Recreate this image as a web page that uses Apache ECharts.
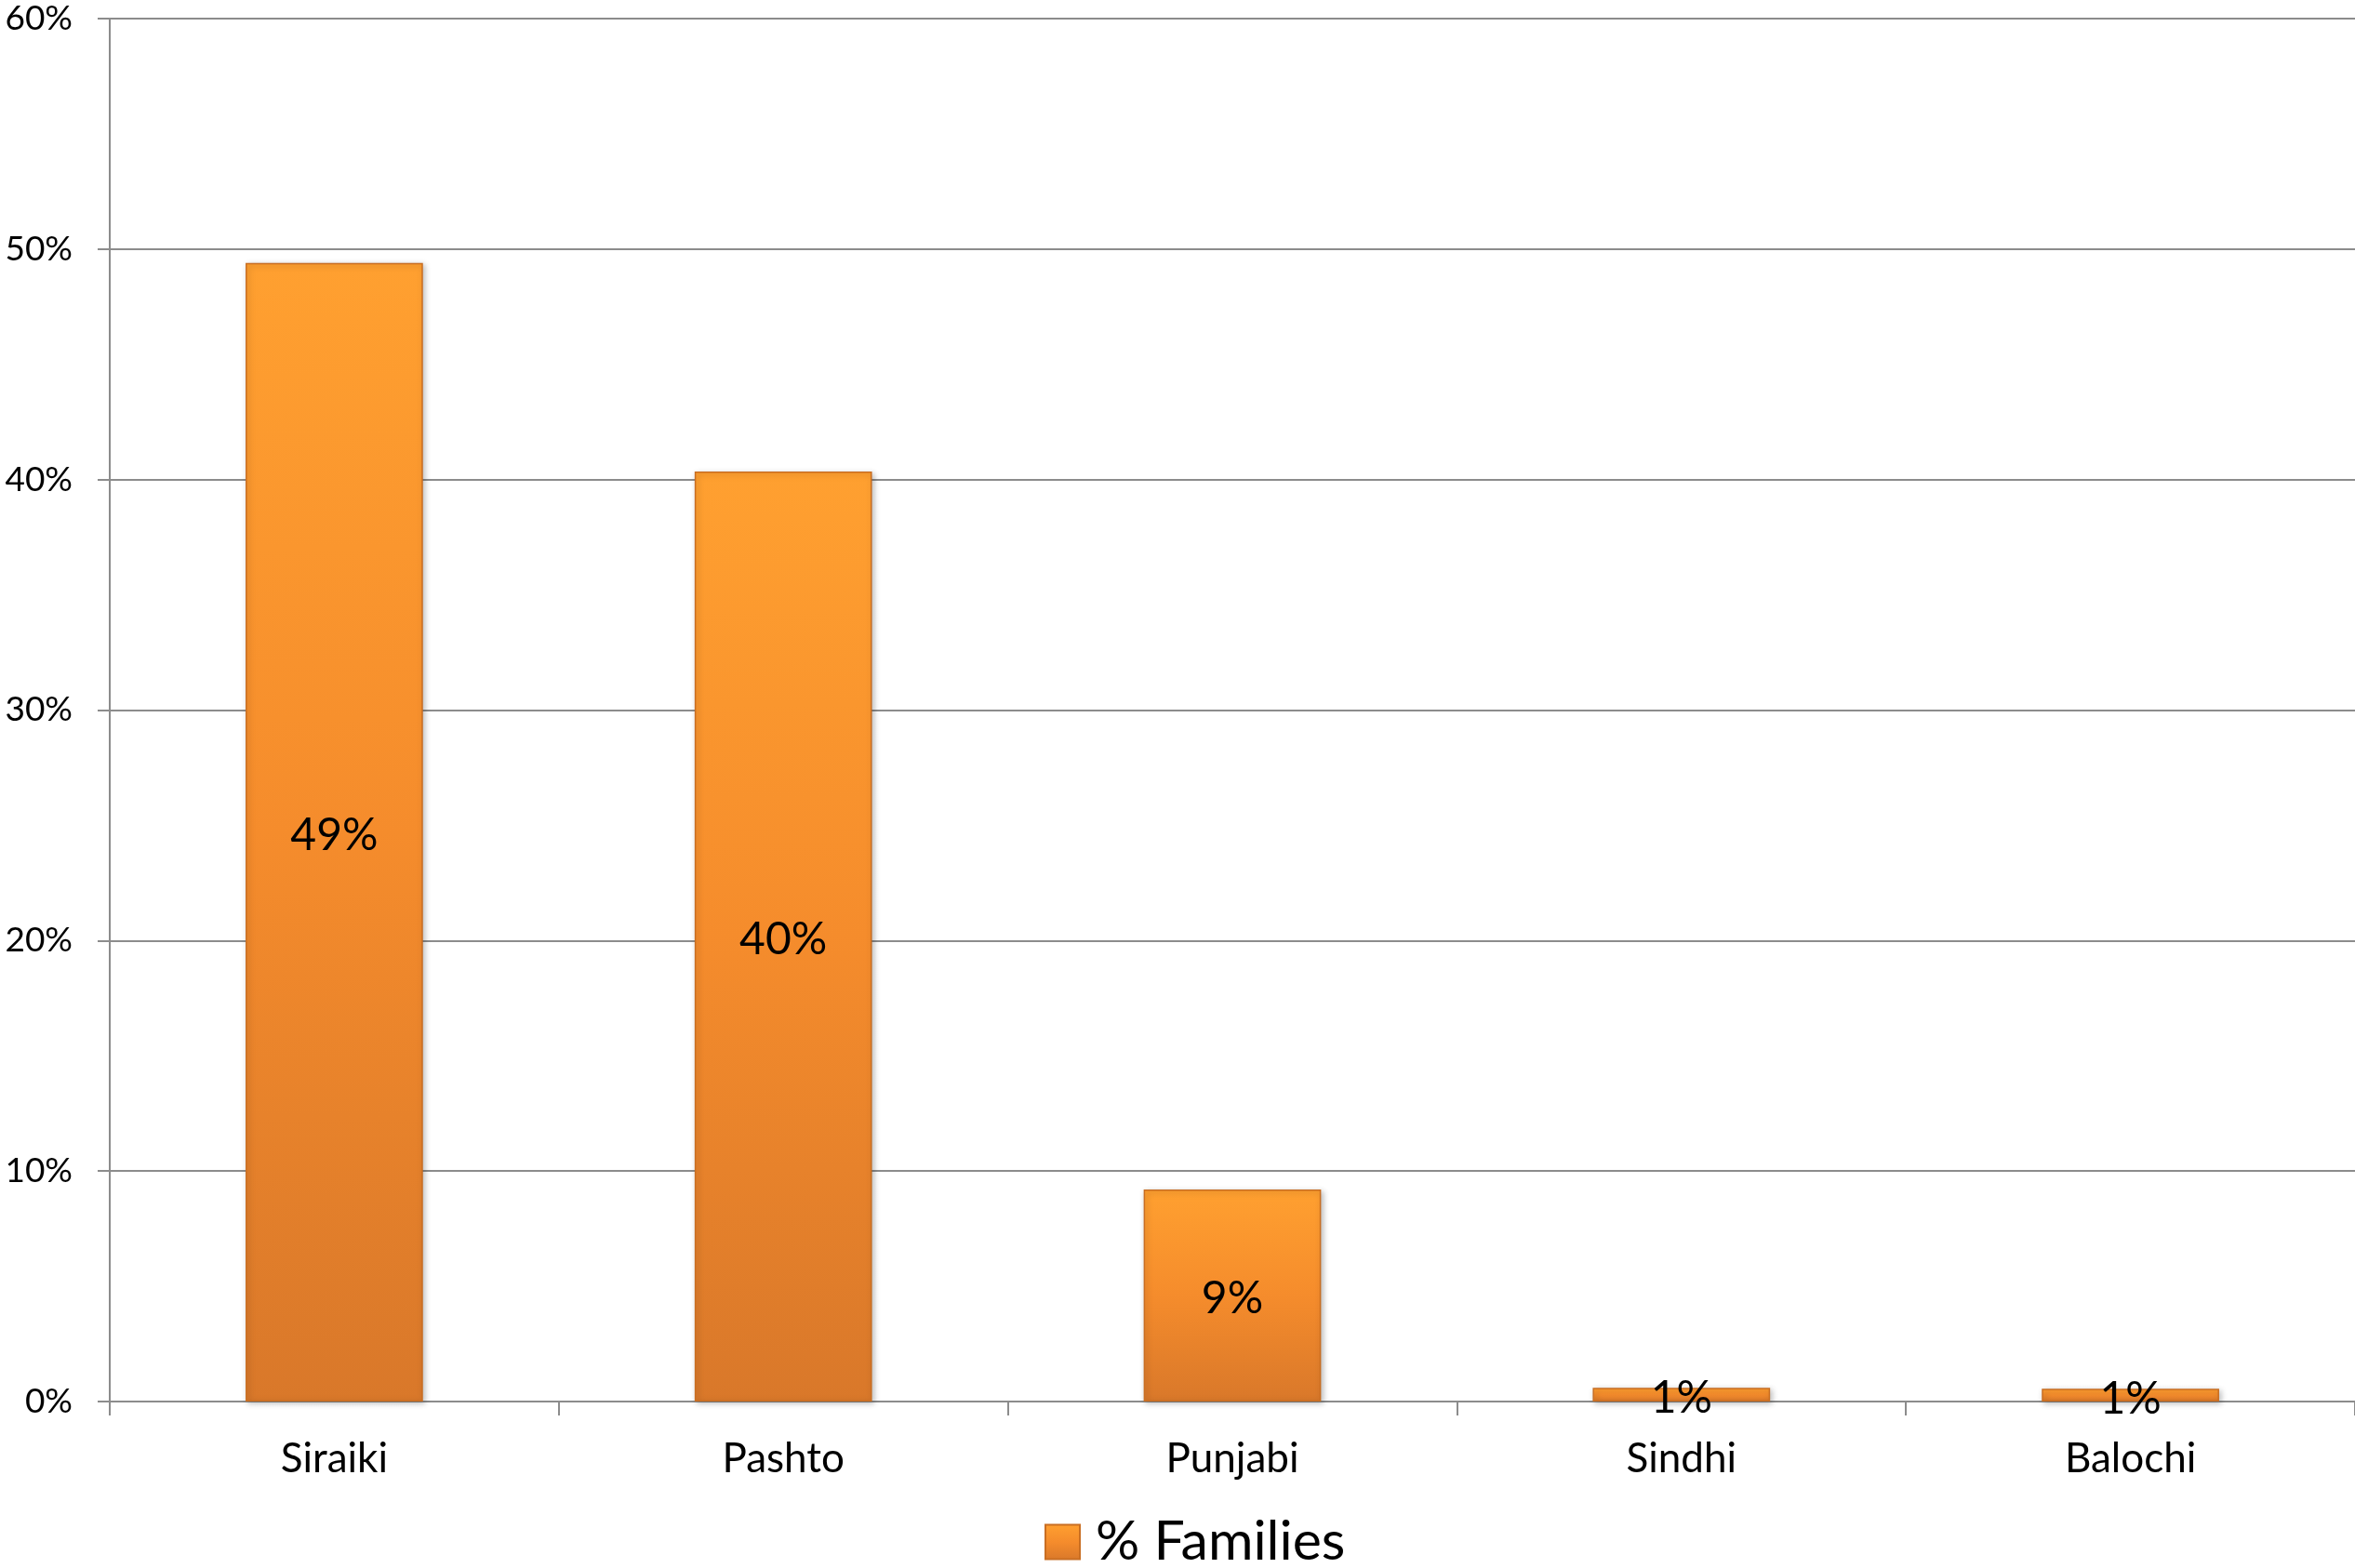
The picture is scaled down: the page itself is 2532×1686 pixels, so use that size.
<!DOCTYPE html>
<html>
<head>
<meta charset="utf-8">
<script src="https://cdn.jsdelivr.net/npm/echarts@6/dist/echarts.min.js"></script>
<style>
html,body{margin:0;padding:0;background:#fff;}
#chart{width:2532px;height:1686px;}
</style>
</head>
<body>
<div id="chart"></div>
<script>
const categories = ['Siraiki', 'Pashto', 'Punjabi', 'Sindhi', 'Balochi'];
const families = [49.4, 40.35, 9.2, 0.6, 0.55];
const seriesName = '% Families';
const yMin = 0, yMax = 60, yInterval = 10;

const chart = echarts.init(document.getElementById('chart'), null, {renderer: 'canvas'});
const barGradient = new echarts.graphic.LinearGradient(0, 0, 0, 1, [
  {offset: 0, color: '#FFA030'},
  {offset: 0.5, color: '#F58C2C'},
  {offset: 1, color: '#D9782A'}
]);
const font = 'Lato';
chart.setOption({
  backgroundColor: '#ffffff',
  animation: false,
  grid: {left: 118, right: 0, top: 20, bottom: 179, containLabel: false},
  legend: {
    left: 1123, top: 1626,
    padding: 0,
    itemWidth: 37, itemHeight: 37,
    icon: 'rect',
    textStyle: {fontFamily: font, fontSize: 59, lineHeight: 64, color: '#000', padding: [0, 0, 0, 12]},
    data: [seriesName]
  },
  xAxis: {
    type: 'category',
    data: categories,
    axisLine: {show: true, lineStyle: {color: '#8c8c8c', width: 2}},
    axisTick: {show: true, length: 15, alignWithLabel: false, lineStyle: {color: '#8c8c8c', width: 2}},
    axisLabel: {fontFamily: font, fontSize: 44, color: '#000', margin: 40}
  },
  yAxis: {
    type: 'value',
    min: yMin, max: yMax, interval: yInterval,
    axisLine: {show: true, lineStyle: {color: '#8c8c8c', width: 2}},
    axisTick: {show: true, length: 13, lineStyle: {color: '#8c8c8c', width: 2}},
    splitLine: {show: true, lineStyle: {color: '#8c8c8c', width: 2}},
    axisLabel: {fontFamily: font, fontSize: 37, color: '#000', margin: 40, formatter: '{value}%'}
  },
  series: [{
    name: seriesName,
    type: 'bar',
    data: families,
    barWidth: '39.5%',
    itemStyle: {
      color: barGradient,
      borderColor: '#C96E22',
      borderWidth: 1.5,
      shadowColor: 'rgba(0,0,0,0.25)',
      shadowBlur: 6,
      shadowOffsetX: 2,
      shadowOffsetY: 2
    },
    label: {
      show: true,
      position: 'inside',
      offset: [0, 4],
      fontFamily: font,
      fontSize: 48,
      color: '#000',
      formatter: p => Math.round(p.value) + '%'
    }
  }]
});
</script>
</body>
</html>
